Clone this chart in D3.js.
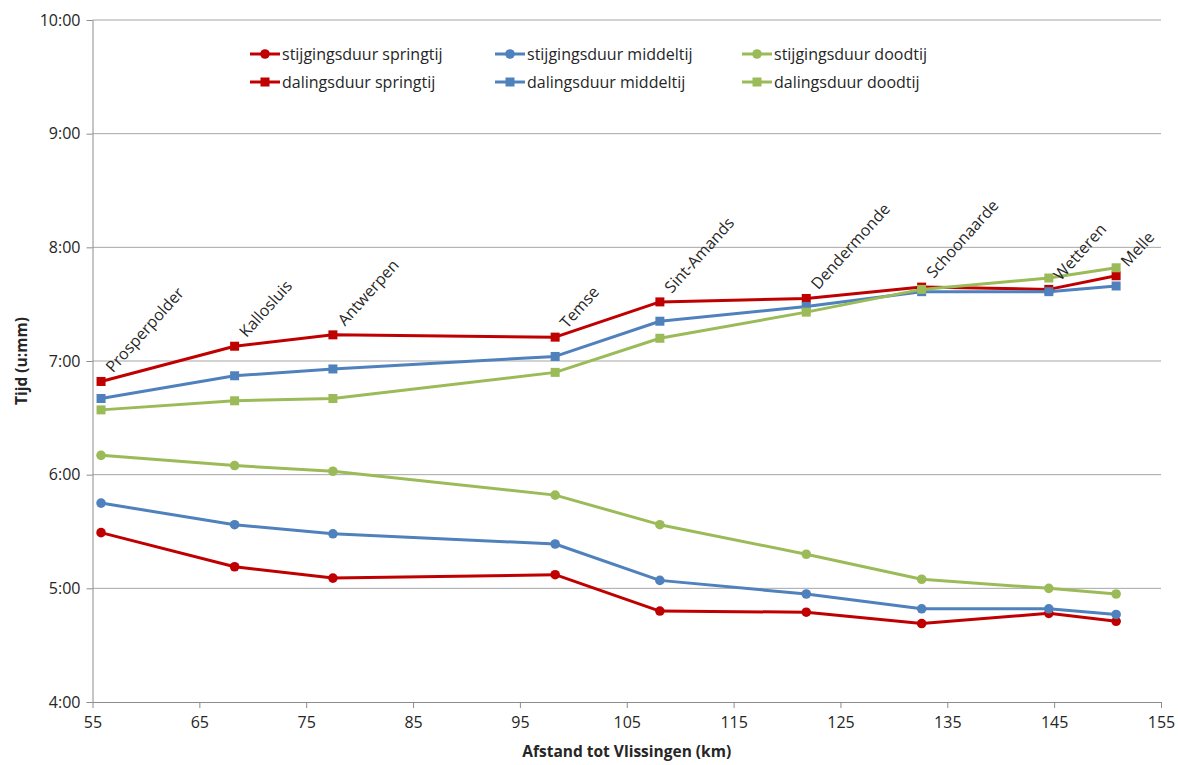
<!DOCTYPE html>
<html><head><meta charset="utf-8">
<script src="https://cdn.jsdelivr.net/npm/d3@7"></script>
<style>body{margin:0;background:#fff}svg{display:block}text{font-family:"Open Sans","Noto Sans",sans-serif;fill:#262626}</style>
</head><body><svg id="c" width="1178" height="765"></svg>
<script>
const stations = ["Prosperpolder","Kallosluis","Antwerpen","Temse","Sint-Amands","Dendermonde","Schoonaarde","Wetteren","Melle"];
const distanceKm = [55.8, 68.3, 77.5, 98.3, 108.1, 121.8, 132.6, 144.5, 150.8];
// values in hours (decimal)
const stijgingSpringtij = [5.49, 5.19, 5.09, 5.12, 4.80, 4.79, 4.69, 4.78, 4.71];
const stijgingMiddeltij = [5.75, 5.56, 5.48, 5.39, 5.07, 4.95, 4.82, 4.82, 4.77];
const stijgingDoodtij   = [6.17, 6.08, 6.03, 5.82, 5.56, 5.30, 5.08, 5.00, 4.95];
const dalingSpringtij   = [6.82, 7.13, 7.23, 7.21, 7.52, 7.55, 7.65, 7.63, 7.75];
const dalingMiddeltij   = [6.67, 6.87, 6.93, 7.04, 7.35, 7.48, 7.61, 7.61, 7.66];
const dalingDoodtij     = [6.57, 6.65, 6.67, 6.90, 7.20, 7.43, 7.63, 7.73, 7.82];
const xTicks = [55,65,75,85,95,105,115,125,135,145,155];
const yTicks = [4,5,6,7,8,9,10];
const xTitle = "Afstand tot Vlissingen (km)";
const yTitle = "Tijd (u:mm)";

const series = [
  {name:"stijgingsduur springtij", values:stijgingSpringtij, color:"#c00000", marker:"circle"},
  {name:"dalingsduur springtij", values:dalingSpringtij, color:"#c00000", marker:"square"},
  {name:"stijgingsduur middeltij", values:stijgingMiddeltij, color:"#4f81bd", marker:"circle"},
  {name:"dalingsduur middeltij", values:dalingMiddeltij, color:"#4f81bd", marker:"square"},
  {name:"stijgingsduur doodtij", values:stijgingDoodtij, color:"#9bbb59", marker:"circle"},
  {name:"dalingsduur doodtij", values:dalingDoodtij, color:"#9bbb59", marker:"square"}
];

const svg = d3.select("#c");
const L=92.5, R=1161, T=20, B=702;
const x = d3.scaleLinear().domain([55,155]).range([L,R]);
const y = d3.scaleLinear().domain([4,10]).range([B,T]);

// gridlines
svg.append("g").selectAll("line").data(yTicks.filter(d=>d>4)).join("line")
  .attr("x1",L).attr("x2",R).attr("y1",d=>y(d)).attr("y2",d=>y(d))
  .attr("stroke","#a6a6a6").attr("stroke-width",1);

// axes
const xAxis = svg.append("g").attr("transform",`translate(0,${B})`)
  .call(d3.axisBottom(x).tickValues(xTicks).tickSize(6).tickPadding(9).tickFormat(d3.format("d")));
const yAxis = svg.append("g").attr("transform",`translate(${L},0)`)
  .call(d3.axisLeft(y).tickValues(yTicks).tickSize(6).tickPadding(6).tickFormat(d=>d+":00"));
[xAxis,yAxis].forEach(g=>{
  g.selectAll("path,line").attr("stroke","#8c8c8c").attr("stroke-width",1);
  g.selectAll("text").style("font-size","16px").attr("fill","#262626");
});
xAxis.select(".domain").attr("d",`M${L},0.5H${R}`);
yAxis.select(".domain").attr("d",`M0.5,${B}V${T}`);

// titles
svg.append("text").attr("x",(L+R)/2).attr("y",757).attr("text-anchor","middle")
  .style("font-size","15.5px").style("font-weight","bold").text(xTitle);
svg.append("text").attr("transform",`translate(27,${(T+B)/2}) rotate(-90)`).attr("text-anchor","middle")
  .style("font-size","15.5px").style("font-weight","bold").text(yTitle);

// lines
const line = d3.line().x((d,i)=>x(distanceKm[i])).y(d=>y(d));
series.forEach(s=>{
  const g = svg.append("g");
  g.append("path").attr("d",line(s.values)).attr("fill","none")
    .attr("stroke",s.color).attr("stroke-width",3).attr("stroke-linejoin","round");
  if(s.marker==="circle"){
    g.selectAll("circle").data(s.values).join("circle")
      .attr("cx",(d,i)=>x(distanceKm[i])).attr("cy",d=>y(d)).attr("r",4.8).attr("fill",s.color);
  } else {
    g.selectAll("rect").data(s.values).join("rect")
      .attr("x",(d,i)=>x(distanceKm[i])-4.5).attr("y",d=>y(d)-4.5)
      .attr("width",9).attr("height",9).attr("fill",s.color);
  }
});

// station labels (on dalingsduur springtij)
svg.append("g").selectAll("text").data(stations).join("text")
  .attr("transform",(d,i)=>`translate(${x(distanceKm[i])+12},${y(dalingSpringtij[i])-8}) rotate(-48)`)
  .style("font-size","16px").text(d=>d);

// legend
const legendOrder = [
  ["stijgingsduur springtij","stijgingsduur middeltij","stijgingsduur doodtij"],
  ["dalingsduur springtij","dalingsduur middeltij","dalingsduur doodtij"]];
const colX = [250,495,742], rowY=[54,82];
legendOrder.forEach((row,ri)=>row.forEach((nm,ci)=>{
  const s = series.find(v=>v.name===nm);
  const g = svg.append("g").attr("transform",`translate(${colX[ci]},${rowY[ri]})`);
  g.append("line").attr("x1",0).attr("x2",30).attr("stroke",s.color).attr("stroke-width",3);
  if(s.marker==="circle") g.append("circle").attr("cx",15).attr("r",4.8).attr("fill",s.color);
  else g.append("rect").attr("x",10.5).attr("y",-4.5).attr("width",9).attr("height",9).attr("fill",s.color);
  g.append("text").attr("x",32).attr("y",5.5).style("font-size","16px").text(nm);
}));
</script></body></html>
